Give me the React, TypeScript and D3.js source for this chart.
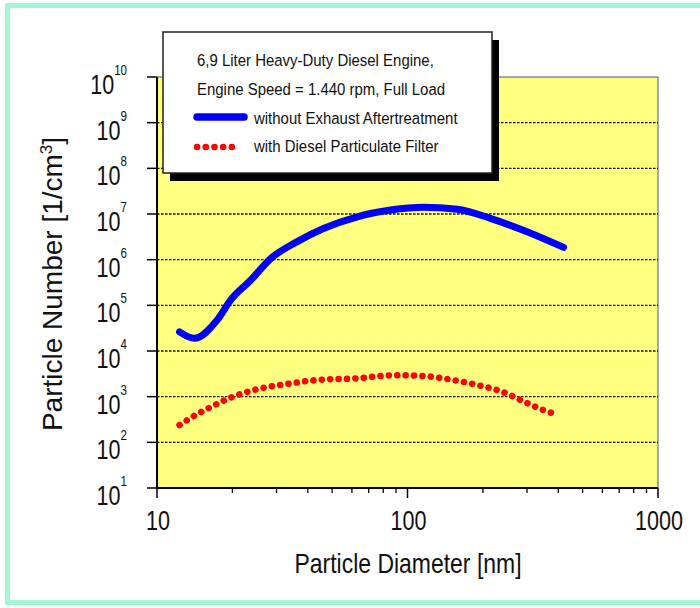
import React from "react";
import * as d3 from "d3";

// blue: without exhaust aftertreatment
const diamRaw = [12.3, 14.1, 17.4, 19.7, 23.7, 28.5, 36.3, 46.4, 63, 85.5, 116, 158, 214, 300, 420];
const numRaw = [26300, 19000, 48000, 132000, 359000, 1.07e6, 2.48e6, 4.86e6, 8.7e6, 1.22e7, 1.4e7, 1.27e7, 8.05e6, 4.1e6, 1.86e6];

// red: with diesel particulate filter
const diamDpf = [12.3, 14.3, 16.7, 19.4, 24.4, 33.1, 45, 61, 89.5, 119, 150, 190, 238, 300, 348, 400];
const numDpf = [240, 400, 625, 920, 1400, 1900, 2350, 2500, 2950, 2800, 2350, 1800, 1290, 725, 510, 400];

const yExponents = [1, 2, 3, 4, 5, 6, 7, 8, 9, 10];
const xMajor = [10, 100, 1000];
const xMinor = [20, 30, 40, 50, 60, 70, 80, 90, 200, 300, 400, 500, 600, 700, 800, 900];

const legendTitle = ["6,9 Liter Heavy-Duty Diesel Engine,", "Engine Speed = 1.440 rpm, Full Load"];
const seriesNames = ["without Exhaust Aftertreatment", "with Diesel Particulate Filter"];

const sans = "'Liberation Sans', Arial, sans-serif";

// no narrow font installed, so squeeze the regular one
const Narrow = ({ x, y, sx, size, anchor = "start", children }: any) => (
  <text
    transform={`translate(${x},${y}) scale(${sx},1)`}
    textAnchor={anchor}
    fontFamily={sans}
    fontSize={size}
    fill="#111"
  >
    {children}
  </text>
);

export default function App() {
  const width = 700;
  const height = 608;
  const left = 157, right = 658, top = 77, bottom = 488;

  const x = d3.scaleLog().domain([10, 1000]).range([left, right]);
  const y = d3.scaleLog().domain([10, 1e10]).range([bottom, top]);

  const line = d3
    .line<[number, number]>()
    .x((d) => x(d[0]))
    .y((d) => y(d[1]))
    .curve(d3.curveMonotoneX);

  const rawPath = line(diamRaw.map((d, i) => [d, numRaw[i]])) || "";
  const dpfPath = line(diamDpf.map((d, i) => [d, numDpf[i]])) || "";

  return (
    <svg
      width={width}
      height={height}
      style={{ position: "absolute", left: 0, top: 0, background: "#fff" }}
    >
      {/* outer frame */}
      <rect x={7.5} y={5.5} width={710} height={597} fill="#fff" stroke="#a4f7d4" strokeWidth={5} />

      {/* plot area */}
      <rect x={left} y={top} width={right - left} height={bottom - top} fill="#ffff80" stroke="#555" strokeWidth={1} />

      {/* grid */}
      {yExponents
        .filter((e) => e > 1 && e < 10)
        .map((e) => (
          <line
            key={"g" + e}
            x1={left}
            x2={right}
            y1={y(Math.pow(10, e))}
            y2={y(Math.pow(10, e))}
            stroke="#111"
            strokeWidth={1.3}
            strokeDasharray="2.5,1.5"
          />
        ))}

      {/* axes */}
      <line x1={left} x2={left} y1={top} y2={bottom} stroke="#000" strokeWidth={2} />
      <line x1={left} x2={right} y1={bottom} y2={bottom} stroke="#000" strokeWidth={2} />

      {yExponents.map((e) => {
        const yy = y(Math.pow(10, e));
        return (
          <g key={"y" + e}>
            <line x1={left - 10} x2={left} y1={yy} y2={yy} stroke="#000" strokeWidth={1.5} />
            <Narrow x={127} y={yy + 17} sx={0.77} size={28} anchor="end">
              10
              <tspan fontSize={15} dy={-19}>
                {e}
              </tspan>
            </Narrow>
          </g>
        );
      })}

      {xMinor.map((v) => (
        <line key={"m" + v} x1={x(v)} x2={x(v)} y1={bottom} y2={bottom + 5} stroke="#000" strokeWidth={1.3} />
      ))}
      {xMajor.map((v) => (
        <g key={"x" + v}>
          <line x1={x(v)} x2={x(v)} y1={bottom} y2={bottom + 10} stroke="#000" strokeWidth={1.5} />
          <Narrow x={x(v) + 1} y={530} sx={0.77} size={28} anchor="middle">
            {v}
          </Narrow>
        </g>
      ))}

      {/* axis titles */}
      <Narrow x={408} y={573} sx={0.82} size={28} anchor="middle">
        Particle Diameter [nm]
      </Narrow>
      <text
        transform="translate(62,284) rotate(-90)"
        textAnchor="middle"
        fontFamily={sans}
        fontSize={28}
        fill="#111"
      >
        Particle Number [1/cm<tspan fontSize={17} dy={-10}>3</tspan>
        <tspan dy={10}>]</tspan>
      </text>

      {/* series */}
      <path d={rawPath} fill="none" stroke="#0000ff" strokeWidth={7} strokeLinecap="round" strokeLinejoin="round" />
      <path
        d={dpfPath}
        fill="none"
        stroke="#ff0000"
        strokeWidth={6.5}
        strokeLinecap="round"
        strokeDasharray="0.1,8.3"
      />

      {/* legend */}
      <rect x={170} y={40} width={329} height={141} fill="#000" />
      <rect x={163} y={32} width={329} height={141} fill="#fff" stroke="#222" strokeWidth={1.5} />
      {legendTitle.map((t, i) => (
        <Narrow key={t} x={197} y={66 + i * 29} sx={0.88} size={17}>
          {t}
        </Narrow>
      ))}
      <line x1={197} x2={244} y1={117} y2={117} stroke="#0000ff" strokeWidth={7.5} strokeLinecap="round" />
      <line
        x1={197}
        x2={240}
        y1={147}
        y2={147}
        stroke="#ff0000"
        strokeWidth={6.5}
        strokeLinecap="round"
        strokeDasharray="0.1,8.6"
      />
      {seriesNames.map((t, i) => (
        <Narrow key={t} x={254} y={124 + i * 28} sx={0.88} size={17}>
          {t}
        </Narrow>
      ))}
    </svg>
  );
}
